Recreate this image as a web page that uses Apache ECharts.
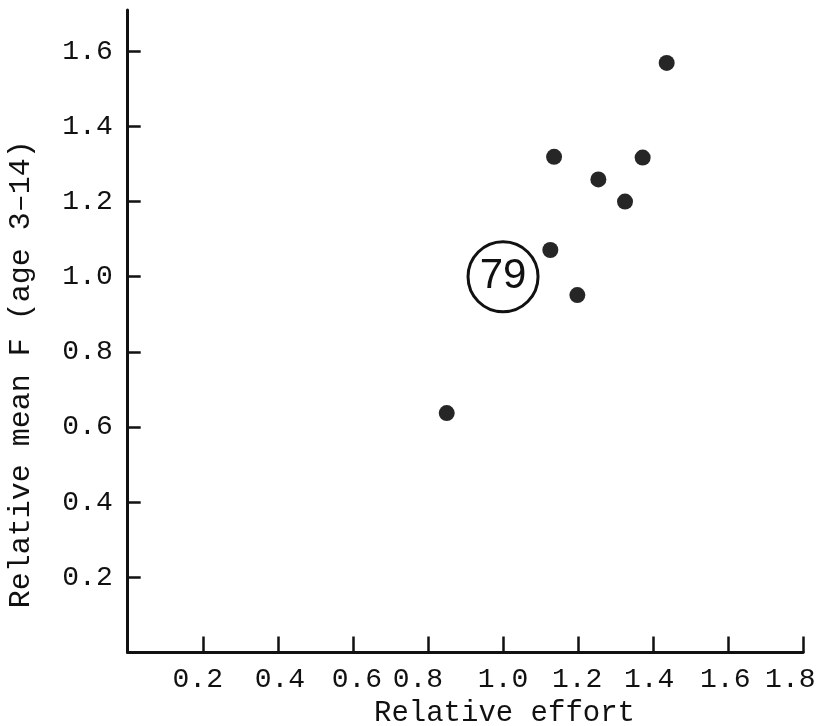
<!DOCTYPE html>
<html>
<head>
<meta charset="utf-8">
<script src="https://cdn.jsdelivr.net/npm/echarts@6/dist/echarts.min.js"></script>
<style>
html,body{margin:0;padding:0;background:#fff;}
#chart{width:821px;height:726px;}
</style>
</head>
<body>
<div id="chart"></div>
<script>
// Data
const effort = [0.850, 1.126, 1.198, 1.136, 1.254, 1.325, 1.372, 1.436];
const meanF  = [0.637, 1.071, 0.951, 1.319, 1.259, 1.200, 1.317, 1.569];
const markerPos = [1.0, 1.0];
const markerText = '79';
const xTicks = [0.2, 0.4, 0.6, 0.8, 1.0, 1.2, 1.4, 1.6, 1.8];
const yTicks = [0.2, 0.4, 0.6, 0.8, 1.0, 1.2, 1.4, 1.6];
const xTitle = 'Relative effort';
const yTitle = 'Relative mean F (age 3\u201314)';

// typewritten label placement quirks (pixel nudges, styling only)
const xLabelNudge = [-5, 2, 4, -10, 0, -1, -4, -3, -13];

const points = effort.map((x, i) => [x, meanF[i]]);
const mono = '"Liberation Mono", "DejaVu Sans Mono", monospace';

const rich = {};
xLabelNudge.forEach((d, i) => {
  rich['n' + i] = {
    fontFamily: mono, fontSize: 28, color: '#111',
    padding: d >= 0 ? [0, 0, 0, 2 * d] : [0, -2 * d, 0, 0]
  };
});

const chart = echarts.init(document.getElementById('chart'));
chart.setOption({
  animation: false,
  backgroundColor: '#fff',
  grid: { left: 127.7, right: 17.7, top: 9.9, bottom: 73.5, containLabel: false, outerBoundsMode: 'none' },
  xAxis: {
    type: 'value', min: 0, max: 1.8,
    name: xTitle, nameLocation: 'middle', nameGap: 38,
    nameTextStyle: { fontFamily: mono, fontSize: 29, color: '#111', padding: [0, 0, 0, 78] },
    axisLine: { show: true, onZero: false, lineStyle: { color: '#111', width: 2.8 } },
    axisTick: { show: true, inside: true, length: 16, customValues: xTicks, lineStyle: { color: '#111', width: 2.5 } },
    axisLabel: { show: true, customValues: xTicks, margin: 13, fontFamily: mono, fontSize: 28, color: '#111',
      formatter: v => {
        const i = xTicks.findIndex(t => Math.abs(t - v) < 1e-6);
        return i >= 0 ? '{n' + i + '|' + v.toFixed(1) + '}' : v.toFixed(1);
      },
      rich: rich },
    splitLine: { show: false }
  },
  yAxis: {
    type: 'value', min: 0, max: 1.71,
    name: yTitle, nameLocation: 'middle', nameGap: 92, nameRotate: 90,
    nameTextStyle: { fontFamily: mono, fontSize: 30, color: '#111', padding: [0, 86, 0, 0] },
    axisLine: { show: true, onZero: false, lineStyle: { color: '#111', width: 3 } },
    axisTick: { show: true, inside: true, length: 13, customValues: yTicks, lineStyle: { color: '#111', width: 2.5 } },
    axisLabel: { show: true, customValues: yTicks, margin: 15, fontFamily: mono, fontSize: 28, color: '#111',
      formatter: v => v.toFixed(1) },
    splitLine: { show: false }
  },
  series: [
    {
      type: 'scatter',
      data: points,
      symbol: 'circle',
      symbolSize: 16,
      itemStyle: { color: '#262626', opacity: 1 }
    },
    {
      type: 'scatter',
      data: [markerPos],
      symbol: 'circle',
      symbolSize: 70,
      itemStyle: { color: '#fff', borderColor: '#111', borderWidth: 3, opacity: 1 },
      label: { show: true, position: 'inside', formatter: markerText,
        fontFamily: '"Liberation Sans", Arial, sans-serif', fontSize: 42, color: '#111' }
    }
  ]
});
</script>
</body>
</html>
